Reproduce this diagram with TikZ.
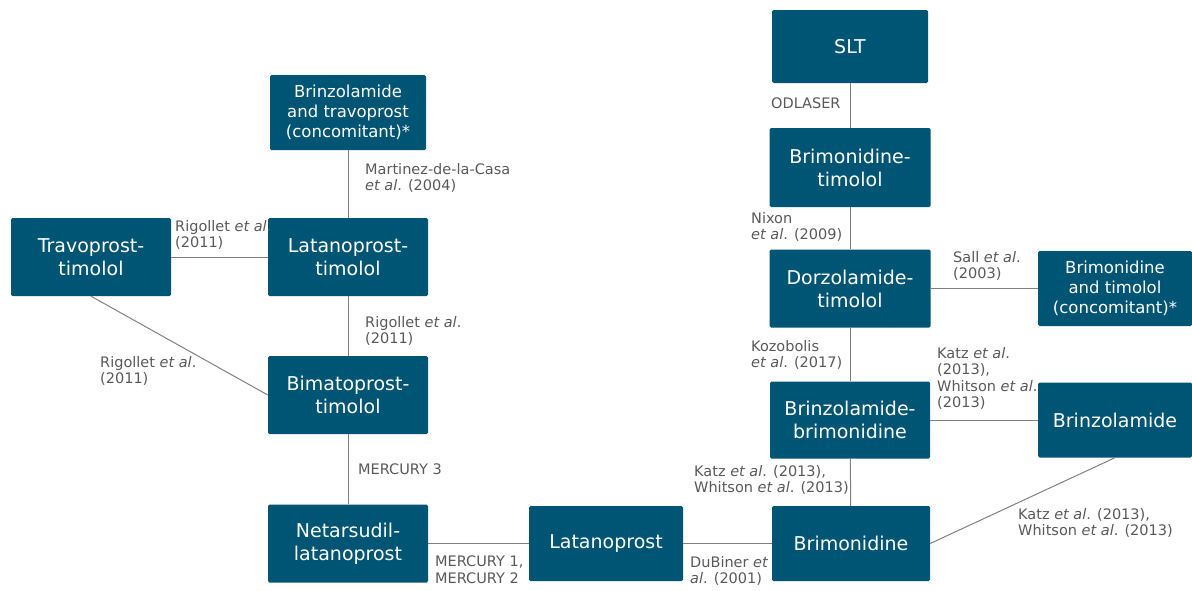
\documentclass[tikz,border=0pt]{standalone}
\usepackage{fontspec}
\setmainfont{DejaVu Sans}
\definecolor{boxc}{HTML}{005574}
\definecolor{linec}{HTML}{808080}
\definecolor{labc}{HTML}{595959}
\newcommand{\eal}{\textit{et al}.}
\begin{document}
\begin{tikzpicture}[x=1pt,y=-1pt,
  box/.style={fill=boxc, text=white, rounded corners=1.5pt, align=center, inner sep=0pt,
    font=\fontsize{19}{23}\selectfont},
  sbox/.style={box, font=\fontsize{16.5}{20}\selectfont},
  lab/.style={text=labc, align=left, inner sep=0pt, anchor=north west,
    font=\fontsize{14.5}{16.5}\selectfont},
  conn/.style={draw=linec, line width=1pt}]
\useasboundingbox (0,0) rectangle (1192,590);
% right column
\node[box, minimum width=156pt, minimum height=73pt] (slt) at (850,46.5) {SLT};
\node[box, minimum width=161pt, minimum height=79pt] (bt) at (850,167.5) {Brimonidine-\\timolol};
\node[box, minimum width=161pt, minimum height=78pt] (dt) at (850,288.5) {Dorzolamide-\\timolol};
\node[sbox, minimum width=154pt, minimum height=75pt] (btc) at (1115,288.5) {Brimonidine\\and timolol\\(concomitant)*};
\node[box, minimum width=160pt, minimum height=77pt] (bb) at (850,420) {Brinzolamide-\\brimonidine};
\node[box, minimum width=154pt, minimum height=75pt] (brz) at (1115,420) {Brinzolamide};
\node[box, minimum width=158pt, minimum height=75pt] (bri) at (851,543.5) {Brimonidine};
\node[box, minimum width=154pt, minimum height=75pt] (lat) at (606,543.5) {Latanoprost};
% left column
\node[box, minimum width=160pt, minimum height=78pt] (nl) at (348,543.5) {Netarsudil-\\latanoprost};
\node[box, minimum width=160pt, minimum height=78pt] (bmt) at (348,395) {Bimatoprost-\\timolol};
\node[box, minimum width=160pt, minimum height=78pt] (lt) at (348,257) {Latanoprost-\\timolol};
\node[box, minimum width=160pt, minimum height=78pt] (tt) at (91,257) {Travoprost-\\timolol};
\node[sbox, minimum width=156pt, minimum height=75pt] (bzt) at (348,112.5) {Brinzolamide\\and travoprost\\(concomitant)*};
% connectors
\draw[conn] (slt) -- (bt);
\draw[conn] (bt) -- (dt);
\draw[conn] (dt) -- (btc);
\draw[conn] (dt) -- (bb);
\draw[conn] (bb) -- (brz);
\draw[conn] (bb) -- (bri);
\draw[conn] (brz.south) -- (bri.east);
\draw[conn] (bri) -- (lat);
\draw[conn] (lat) -- (nl);
\draw[conn] (nl) -- (bmt);
\draw[conn] (bmt) -- (lt);
\draw[conn] (lt) -- (bzt);
\draw[conn] (tt) -- (lt);
\draw[conn] (tt.south) -- (bmt.west);
% labels
\node[lab] (l1) at (771,98) {ODLASER};
\node[lab] (l2) at (751,212) {Nixon\\\eal{} (2009)};
\node[lab] (l3) at (953,251) {Sall \eal\\(2003)};
\node[lab] (l4) at (751,340) {Kozobolis\\\eal{} (2017)};
\node[lab] (l5) at (937,347) {Katz \eal\\(2013),\\Whitson \eal\\(2013)};
\node[lab] (l6) at (694,465) {Katz \eal{} (2013),\\Whitson \eal{} (2013)};
\node[lab] (l7) at (1018,508) {Katz \eal{} (2013),\\Whitson \eal{} (2013)};
\node[lab] (l8) at (690,556) {DuBiner \textit{et}\\\textit{al}. (2001)};
\node[lab] (l9) at (435,556) {MERCURY 1,\\MERCURY 2};
\node[lab] (l10) at (358,464) {MERCURY 3};
\node[lab] (l11) at (365,316) {Rigollet \eal\\(2011)};
\node[lab] (l12) at (100,356) {Rigollet \eal\\(2011)};
\node[lab] (l13) at (175,220) {Rigollet \eal\\(2011)};
\node[lab] (l14) at (365,163) {Martinez-de-la-Casa\\\eal{} (2004)};
\end{tikzpicture}
\end{document}
